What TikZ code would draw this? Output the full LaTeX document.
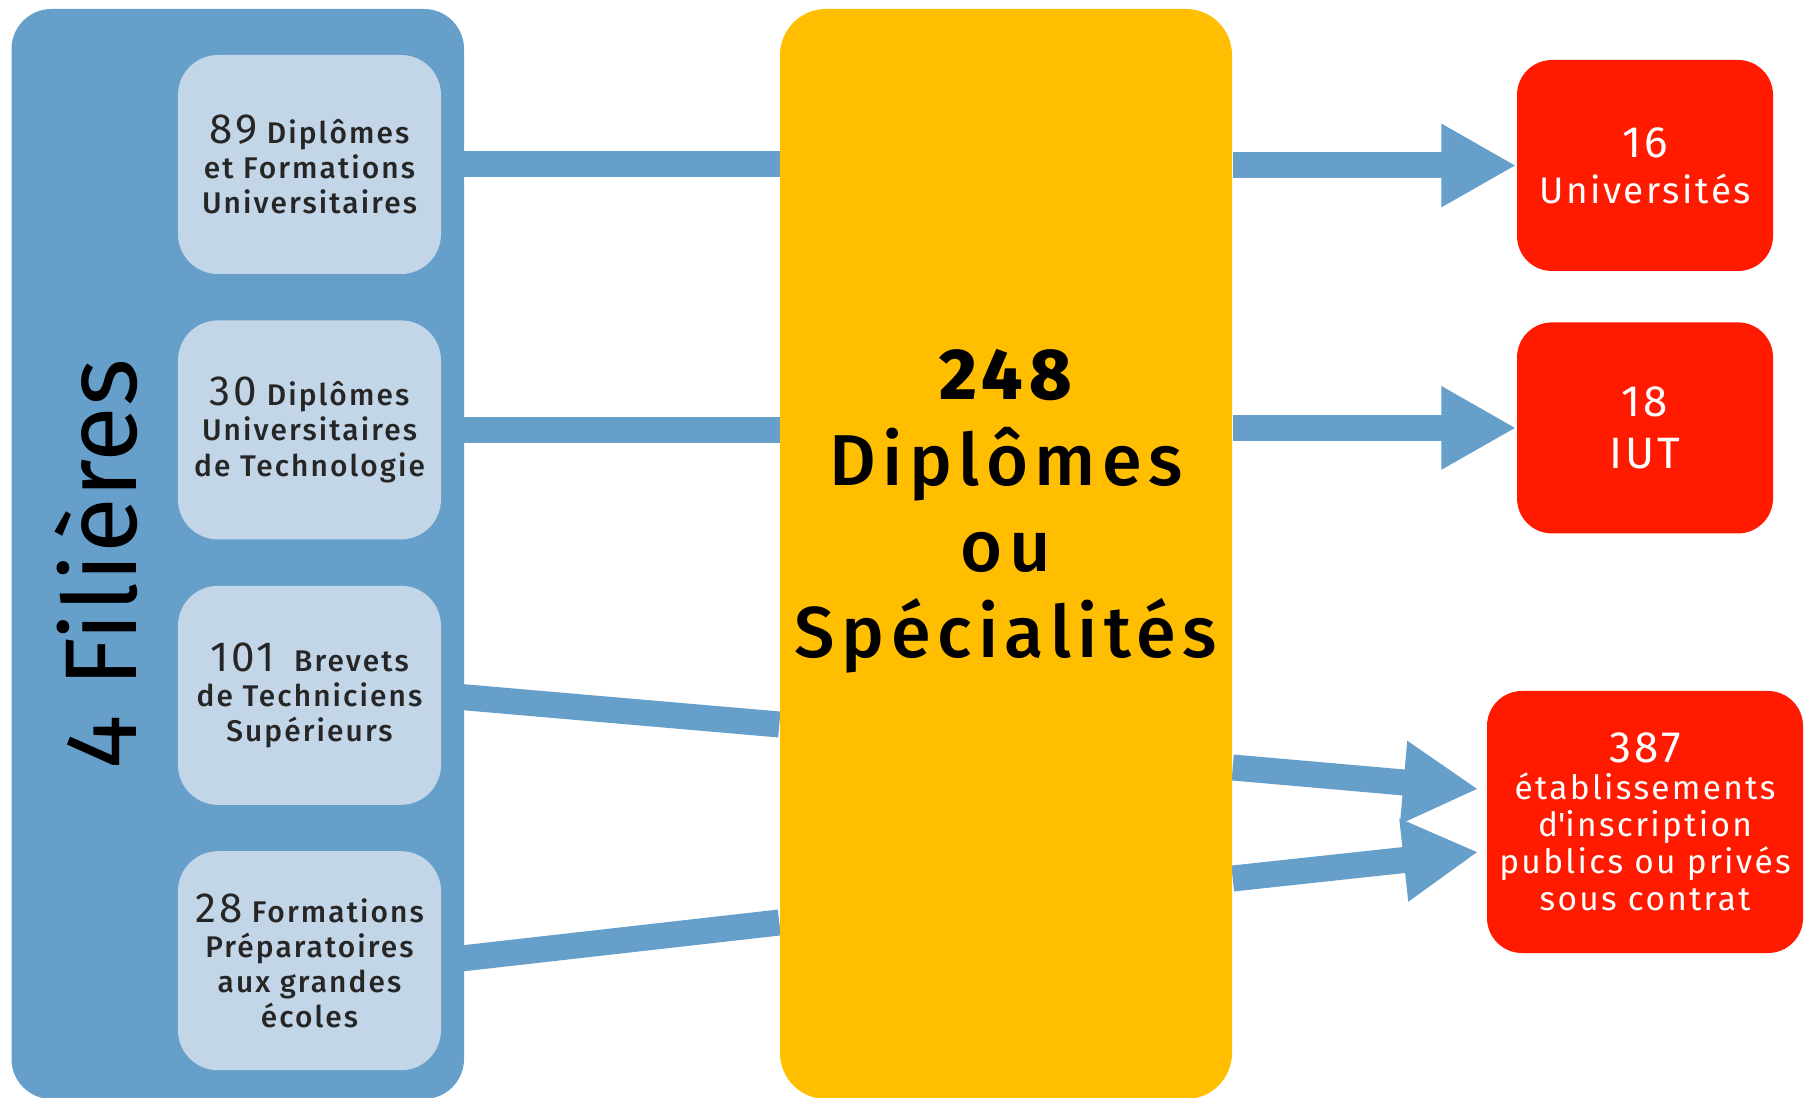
\documentclass[tikz,border=0pt]{standalone}
\usepackage{fontspec}
\usetikzlibrary{positioning, arrows.meta, backgrounds}
\newfontfamily\dinfont{Fira Sans}[LetterSpace=7]
\newfontfamily\dinmed{Fira Sans Medium}[LetterSpace=7]
\newfontfamily\dinwide{Fira Sans Medium}[LetterSpace=9]
\newfontfamily\dinplain{Fira Sans}
\definecolor{filblue}{HTML}{679FCB}
\definecolor{boxblue}{HTML}{C3D6E8}
\definecolor{dipyellow}{HTML}{FFBF00}
\definecolor{etred}{HTML}{FF1A00}
\definecolor{inkgray}{HTML}{262626}
\tikzset{
  filiere/.style={fill=boxblue, rounded corners=0.4cm, minimum width=2.63cm,
    minimum height=2.19cm, align=center, text=inkgray, inner sep=0pt,
    font=\dinmed\fontsize{8.5}{10}\selectfont},
  cible/.style={fill=etred, rounded corners=0.35cm, text=white, align=center, inner sep=0pt},
  link/.style={draw=filblue, line width=2.6mm},
  flow/.style={link, -{Triangle[length=7.5mm,width=7.8mm]}},
}
\newcommand{\bignum}[1]{{\dinfont\fontsize{12}{10}\selectfont #1}}
\begin{document}
\begin{tikzpicture}[node distance=0.45cm]
  \useasboundingbox (0,0) rectangle (18.05,-10.98);
  % filieres
  \node[fill=filblue, rounded corners=0.4cm, minimum width=4.525cm, minimum height=10.9cm] (fil) at (2.3775,-5.54) {};
  \node[rotate=90, font=\dinplain\fontsize{29}{29}\selectfont, text=black] (filt) at (0.96,-5.64) {4 Filières};
  \node[filiere] (f1) at (3.095,-1.645) {\bignum{89} Diplômes\\et Formations\\Universitaires};
  \node[filiere, below=of f1] (f2) {\bignum{30} Diplômes\\Universitaires\\de Technologie};
  \node[filiere, below=of f2] (f3) {\bignum{101}\ \ Brevets\\de Techniciens\\Supérieurs};
  \node[filiere, below=of f3] (f4) {\bignum{28} Formations\\Préparatoires\\aux grandes\\écoles};

  % diplomes
  \node[fill=dipyellow, rounded corners=0.46cm, minimum width=4.52cm, minimum height=10.9cm] (dip) at (10.06,-5.54) {};
  \node[align=center, font=\dinwide\fontsize{20.5}{24.5}\selectfont, text=black] (dipt) at (10.06,-5.11) {{\bfseries 248}\\Diplômes\\ou\\Spécialités};

  % etablissements
  \node[cible, minimum width=2.56cm, minimum height=2.11cm, font=\dinfont\fontsize{10.5}{13}\selectfont] (univ) at (16.45,-1.655) {{\fontsize{12.5}{13}\selectfont 16}\\Universités};
  \node[cible, minimum width=2.56cm, minimum height=2.11cm, below=0.5cm of univ, font=\dinfont\fontsize{12.5}{14.8}\selectfont] (iut) {18\\IUT};
  \node[cible, minimum width=3.16cm, minimum height=2.62cm, font=\dinfont\fontsize{9.5}{10.5}\selectfont] (etab) at (16.45,-8.22) {{\fontsize{12.5}{12}\selectfont 387}\\établissements\\d\textquotesingle inscription\\publics ou privés\\sous contrat};

  \begin{scope}[on background layer]
    \draw[link] (f1.east) -- (f1.east -| dip.center);
    \draw[link] (f2.east) -- (f2.east -| dip.center);
    \draw[link] (f3.east) -- ([yshift=-1.705cm]dip.west);
    \draw[link] (f4.east) -- ([yshift=-3.685cm]dip.west);
    \draw[flow] (dip.east |- univ.west) -- (univ.west);
    \draw[flow] (dip.east |- iut.west) -- (iut.west);
    \draw[flow] ([yshift=-2.135cm]dip.east) -- ([xshift=-0.08cm, yshift=0.33cm]etab.west);
    \draw[flow] ([yshift=-3.245cm]dip.east) -- ([xshift=-0.08cm, yshift=-0.30cm]etab.west);
  \end{scope}
\end{tikzpicture}
\end{document}
